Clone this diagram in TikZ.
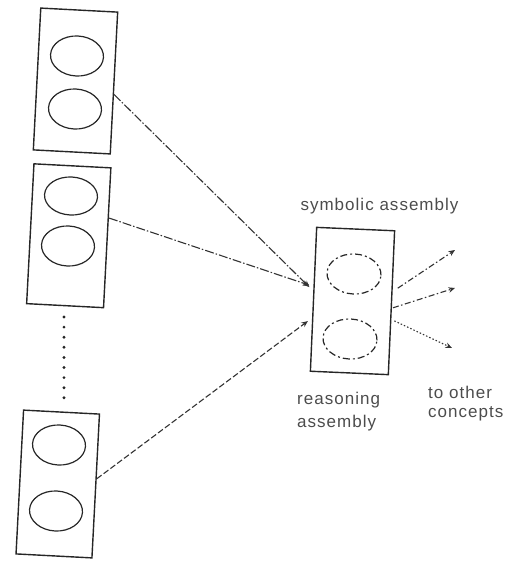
\documentclass[tikz,border=0pt]{standalone}
\usepackage{fontspec}
\newfontfamily\lblfont[LetterSpace=6]{Liberation Sans}
\usetikzlibrary{shapes.geometric,calc,arrows.meta}

\tikzset{
  conceptbox/.style={draw=black!85, line width=1.4pt, rectangle, inner sep=0pt,
    minimum width=77pt, minimum height=142pt, rotate=-3},
  unitoval/.style={draw=black!85, line width=1.2pt, ellipse, inner sep=0pt,
    minimum width=53pt, minimum height=40pt, rotate=-3},
  dashoval/.style={unitoval, dash pattern=on 7pt off 3pt on 2pt off 3pt},
  feedline/.style={draw=black!80, line width=1.1pt,
    dash pattern=on 9pt off 2pt on 1.5pt off 2pt,
    -{Stealth[length=6.5pt,width=5.5pt]}},
  feedlinedash/.style={feedline, dash pattern=on 6pt off 2.5pt},
  outline/.style={feedline, dash pattern=on 6pt off 2.5pt on 1.5pt off 2.5pt},
  outlinedot/.style={feedline, dash pattern=on 1.5pt off 2pt},
  lbl/.style={text=black!70, font=\lblfont\fontsize{17}{20}\selectfont, inner sep=0pt}
}

\begin{document}
\begin{tikzpicture}[x=1pt,y=-1pt]
  \useasboundingbox (0,0) rectangle (512,562);

  % input concept assemblies on the left
  \node[conceptbox] (b1) at (75.5,81) {};
  \node[unitoval] (b1u) at (77,56) {};
  \node[unitoval] (b1l) at (75,109) {};

  \node[conceptbox, minimum height=140pt] (b2) at (68.75,235.75) {};
  \node[unitoval, minimum height=38pt] (b2u) at (71,196) {};
  \node[unitoval] (b2l) at (68,246) {};

  \node[conceptbox, minimum width=76pt, minimum height=144pt] (b3) at (57.75,484) {};
  \node[unitoval] (b3u) at (59,445) {};
  \node[unitoval] (b3l) at (56,511) {};

  % ellipsis between the second and last assembly
  \coordinate (dtop) at (64,317);
  \coordinate (dbot) at (64,398);
  \draw[line width=3.2pt, line cap=round, dash pattern=on 0pt off 10.1pt, black!85]
    (dtop) -- (dbot);

  % reasoning assembly
  \node[conceptbox, minimum width=78pt, minimum height=144pt, rotate=0.5] (r) at (352.5,301) {};
  \node[dashoval, minimum width=54pt, minimum height=40pt] (ru) at (354,274) {};
  \node[dashoval, minimum width=54pt, minimum height=40pt] (rl) at (350,339) {};

  % connector end points on the box edges
  \coordinate (s1) at ($(b1.north east)!0.58!(b1.south east)$);
  \coordinate (s2) at ($(b2.north east)!0.36!(b2.south east)$);
  \coordinate (s3) at ($(b3.north east)!0.45!(b3.south east)$);
  \coordinate (e1) at ($($(r.north west)!0.41!(r.south west)$)+(-4,1)$);
  \coordinate (e2) at ($($(r.north west)!0.41!(r.south west)$)+(-4,-1)$);
  \coordinate (e3) at ($($(r.north west)!0.65!(r.south west)$)+(-4,0)$);

  \coordinate (o1) at ($($(r.north east)!0.40!(r.south east)$)+(5,0)$);
  \coordinate (o2) at ($($(r.north east)!0.535!(r.south east)$)+(1,0)$);
  \coordinate (o3) at ($($(r.north east)!0.625!(r.south east)$)+(3,0)$);
  \coordinate (t1) at (455,250);
  \coordinate (t2) at (455,288);
  \coordinate (t3) at (452,348);

  % incoming links
  \draw[feedline] (s1) -- (e1);
  \draw[feedline] (s2) -- (e2);
  \draw[feedlinedash] (s3) -- (e3);

  % outgoing links
  \draw[outline] (o1) -- (t1);
  \draw[outline] (o2) -- (t2);
  \draw[outlinedot] (o3) -- (t3);

  % labels
  \node[lbl] (sym) at (379.5,206) {symbolic assembly};
  \node[lbl, anchor=west] (rea1) at (297,400) {reasoning};
  \node[lbl, anchor=west] (rea2) at (297,423) {assembly};
  \node[lbl, anchor=west] (oth1) at (428,392) {to other};
  \node[lbl, anchor=west] (oth2) at (428,414) {concepts};
\end{tikzpicture}
\end{document}
